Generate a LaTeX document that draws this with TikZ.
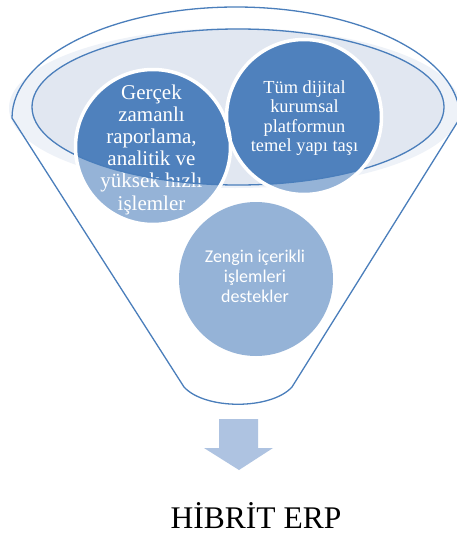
\documentclass[tikz,border=0pt]{standalone}
\usepackage{fontspec}
\setmainfont{Liberation Serif}
\newfontfamily\calfont{Carlito}
\definecolor{lineblue}{HTML}{4A7EBB}
\definecolor{darkfill}{HTML}{4F81BD}
\definecolor{lightfill}{HTML}{95B3D7}
\definecolor{ellfill}{HTML}{E1E7F1}
\definecolor{glowfill}{HTML}{EEF2F8}
\definecolor{arrowfill}{HTML}{AEC3E1}
\begin{document}
\begin{tikzpicture}[x=1pt,y=-1pt,
  outline/.style={draw=lineblue, line width=1.3pt, line join=round},
  circtext/.style={text=white, align=center, inner sep=0pt},
  whiteborder/.style={draw=white, line width=3.5pt}]
\useasboundingbox (0,0) rectangle (457,536);
\fill[white] (0,0) rectangle (457,536);
% glow and inner ellipse fills
\fill[glowfill] (235,108) ellipse [x radius=226, y radius=80];
\fill[ellfill] (238,107) ellipse [x radius=206, y radius=78];
% circle centres
\coordinate (cL) at (153,147);
\coordinate (cR) at (304,117);
\coordinate (cB) at (256,279);
% light circles
\fill[lightfill] (cL) circle [radius=77];
\fill[lightfill] (cR) circle [radius=77];
\fill[lightfill] (cB) circle [radius=77];
% dark parts inside inner ellipse
\begin{scope}
  \clip (238,107) ellipse [x radius=206, y radius=78];
  \fill[darkfill] (cL) circle [radius=77];
  \fill[darkfill] (cR) circle [radius=77];
\end{scope}
% texts
\node[circtext, font=\fontsize{21}{22.2}\selectfont] (tL) at (151.5,149.5)
  {Gerçek\\zamanlı\\raporlama,\\analitik ve\\yüksek hızlı\\işlemler};
\node[circtext, font=\fontsize{18.4}{19.5}\selectfont] (tR) at (304.5,118)
  {Tüm dijital\\kurumsal\\platformun\\temel yapı taşı};
\node[circtext, font=\calfont\fontsize{18}{20}\selectfont] (tB) at (255,276)
  {Zengin içerikli\\işlemleri\\destekler};
% inner ellipse outline
\draw[outline] (238,107) ellipse [x radius=206, y radius=78];
% white circle borders
\draw[whiteborder] (cL) circle [radius=77.5];
\draw[whiteborder] (cR) circle [radius=77.5];
% funnel outline
\draw[outline] (460,118) -- (292,387)
  .. controls (271,410) and (205,410) .. (184,387)
  -- (12,118)
  .. controls (12,56.7) and (112.3,7) .. (236,7)
  .. controls (359.7,7) and (460,56.7) .. (460,118);
% block arrow
\fill[arrowfill] (219,419) -- (258,419) -- (258,448) -- (273,448)
  -- (239,470) -- (204,448) -- (219,448) -- cycle;
% caption
\node[anchor=base, inner sep=0pt, font=\fontsize{31.5}{36}\selectfont] (cap) at (256,528) {HİBRİT ERP};
\end{tikzpicture}
\end{document}
